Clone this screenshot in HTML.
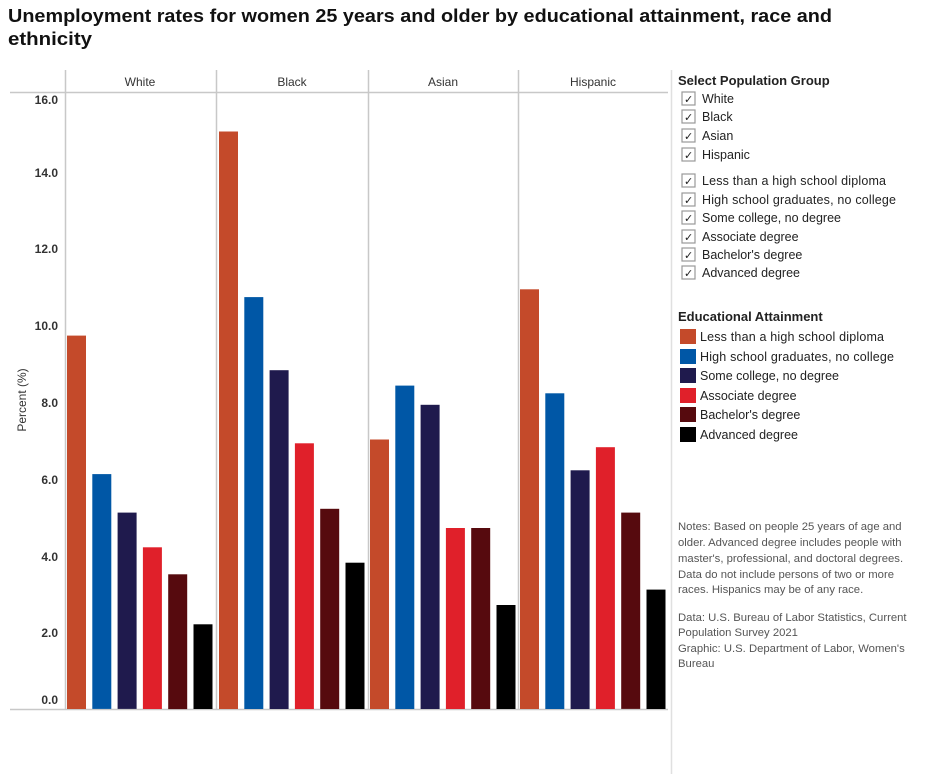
<!DOCTYPE html>
<html><head><meta charset="utf-8"><style>
body{margin:0;background:#fff;width:932px;height:774px;overflow:hidden;font-family:"Liberation Sans",sans-serif}
</style></head><body>
<svg width="932" height="774" xmlns="http://www.w3.org/2000/svg" font-family="Liberation Sans, sans-serif">
<text x="8" y="22" font-size="18" font-weight="bold" fill="#111" textLength="824" lengthAdjust="spacingAndGlyphs">Unemployment rates for women 25 years and older by educational attainment, race and</text>
<text x="8" y="45" font-size="18" font-weight="bold" fill="#111" textLength="84" lengthAdjust="spacingAndGlyphs">ethnicity</text>
<g stroke="#c8c8c8" stroke-width="1.5">
<line x1="65.5" y1="70" x2="65.5" y2="710"/>
<line x1="216.5" y1="70" x2="216.5" y2="710"/>
<line x1="368.5" y1="70" x2="368.5" y2="710"/>
<line x1="518.5" y1="70" x2="518.5" y2="710"/>
<line x1="10" y1="92.5" x2="668" y2="92.5"/>
<line x1="10" y1="709.5" x2="668" y2="709.5"/>
<line x1="671.5" y1="70" x2="671.5" y2="774" stroke="#e0e0e0"/>
</g>
<g font-size="12" fill="#333" text-anchor="middle">
<text x="140" y="86">White</text><text x="292" y="86">Black</text><text x="443" y="86">Asian</text><text x="593" y="86">Hispanic</text>
</g>
<g font-size="12" font-weight="bold" fill="#333" text-anchor="end">
<text x="58" y="104">16.0</text><text x="58" y="177">14.0</text><text x="58" y="253">12.0</text><text x="58" y="330">10.0</text><text x="58" y="407">8.0</text><text x="58" y="484">6.0</text><text x="58" y="561">4.0</text><text x="58" y="637">2.0</text><text x="58" y="704">0.0</text>
</g>
<text transform="translate(26,400) rotate(-90)" font-size="12" fill="#333" text-anchor="middle">Percent (%)</text>
<g id="bars"></g>
<g font-size="12.5" fill="#222">
<text x="678" y="85" font-weight="bold" font-size="13">Select Population Group</text>
<g fill="none" stroke="#999" stroke-width="1.2">
<rect x="682" y="92" width="13" height="13"/><rect x="682" y="110" width="13" height="13"/><rect x="682" y="129" width="13" height="13"/><rect x="682" y="148" width="13" height="13"/>
<rect x="682" y="174" width="13" height="13"/><rect x="682" y="193" width="13" height="13"/><rect x="682" y="211" width="13" height="13"/><rect x="682" y="230" width="13" height="13"/><rect x="682" y="248" width="13" height="13"/><rect x="682" y="266" width="13" height="13"/>
</g>
<g fill="#222" font-size="11">
<text x="684" y="103">✓</text><text x="684" y="121">✓</text><text x="684" y="140">✓</text><text x="684" y="159">✓</text><text x="684" y="185">✓</text><text x="684" y="204">✓</text><text x="684" y="222">✓</text><text x="684" y="241">✓</text><text x="684" y="259">✓</text><text x="684" y="277">✓</text>
</g>
<text x="702" y="103">White</text><text x="702" y="121">Black</text><text x="702" y="140">Asian</text><text x="702" y="159">Hispanic</text>
<text x="702" y="185" textLength="184">Less than a high school diploma</text><text x="702" y="204" textLength="194">High school graduates, no college</text><text x="702" y="222">Some college, no degree</text><text x="702" y="241">Associate degree</text><text x="702" y="259">Bachelor's degree</text><text x="702" y="277">Advanced degree</text>
<text x="678" y="321" font-weight="bold" font-size="13">Educational Attainment</text>
<rect x="680" y="329" width="16" height="15" fill="#C44A2A"/><rect x="680" y="349" width="16" height="15" fill="#0057A6"/><rect x="680" y="368" width="16" height="15" fill="#1F1A4D"/><rect x="680" y="388" width="16" height="15" fill="#E0202A"/><rect x="680" y="407" width="16" height="15" fill="#560A0E"/><rect x="680" y="427" width="16" height="15" fill="#000"/>
<text x="700" y="341" textLength="184">Less than a high school diploma</text><text x="700" y="361" textLength="194">High school graduates, no college</text><text x="700" y="380">Some college, no degree</text><text x="700" y="400">Associate degree</text><text x="700" y="419">Bachelor's degree</text><text x="700" y="439">Advanced degree</text>
</g>
<g font-size="11.3" fill="#555">
<text x="678" y="530">Notes: Based on people 25 years of age and</text>
<text x="678" y="546">older. Advanced degree includes people with</text>
<text x="678" y="562">master's, professional, and doctoral degrees.</text>
<text x="678" y="578">Data do not include persons of two or more</text>
<text x="678" y="593">races. Hispanics may be of any race.</text>
<text x="678" y="621">Data: U.S. Bureau of Labor Statistics, Current</text>
<text x="678" y="636">Population Survey 2021</text>
<text x="678" y="652">Graphic: U.S. Department of Labor, Women's</text>
<text x="678" y="667">Bureau</text>
</g>
</svg>
<script>
var cols=["#C44A2A","#0057A6","#1F1A4D","#E0202A","#560A0E","#000000"];
var data=[[9.7,6.1,5.1,4.2,3.5,2.2],[15.0,10.7,8.8,6.9,5.2,3.8],[7.0,8.4,7.9,4.7,4.7,2.7],[10.9,8.2,6.2,6.8,5.1,3.1]];
var px=[67,219,370,520];
var g=document.getElementById("bars"),s="";
for(var p=0;p<4;p++)for(var i=0;i<6;i++){var v=data[p][i],h=v*38.5,x=px[p]+i*25.3;
s+='<rect x="'+x.toFixed(1)+'" y="'+(709-h).toFixed(1)+'" width="19" height="'+h.toFixed(1)+'" fill="'+cols[i]+'"/>';}
g.innerHTML=s;
</script>
</body></html>
